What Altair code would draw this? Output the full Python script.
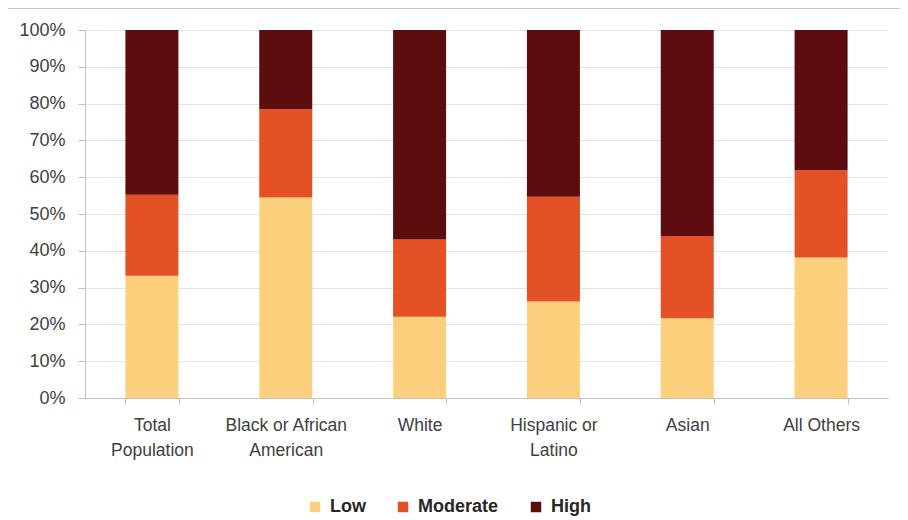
import altair as alt
import pandas as pd

categories = ["Total Population", "Black or African American", "White",
              "Hispanic or Latino", "Asian", "All Others"]
levels = ["Low", "Moderate", "High"]
low = [33.2, 54.5, 22.1, 26.2, 21.7, 38.2]
moderate = [22.0, 24.0, 21.0, 28.5, 22.3, 23.7]
high = [44.8, 21.5, 56.9, 45.3, 56.0, 38.1]
label_lines = {
    "Total Population": ["Total", "Population"],
    "Black or African American": ["Black or African", "American"],
    "White": ["White"],
    "Hispanic or Latino": ["Hispanic or", "Latino"],
    "Asian": ["Asian"],
    "All Others": ["All Others"],
}
colors = ["#FDD07E", "#E35125", "#5E0D0E"]

rows = []
for i, c in enumerate(categories):
    for j, (lv, vals) in enumerate(zip(levels, [low, moderate, high])):
        rows.append({"category": c, "level": lv, "idx": j, "value": vals[i]})
df = pd.DataFrame(rows)

expr_parts = []
for k, v in label_lines.items():
    arr = "[" + ",".join("'" + s + "'" for s in v) + "]"
    expr_parts.append(f"datum.label == '{k}' ? {arr}")
label_expr = " : ".join(expr_parts) + " : datum.label"

FONT = "Liberation Sans"

bars = alt.Chart(df).mark_bar(size=53).encode(
    x=alt.X("category:N", sort=categories, title=None,
            scale=alt.Scale(paddingInner=0.6, paddingOuter=0.3),
            axis=alt.Axis(labelAngle=0, labelExpr=label_expr, tickBand="extent",
                          tickSize=6, labelPadding=12, labelFontSize=17.5,
                          labelColor="#404040", labelFont=FONT,
                          domainColor="#bfbfbf", tickColor="#bfbfbf",
                          labelLineHeight=25, grid=False)),
    y=alt.Y("value:Q", stack="normalize", title=None,
            scale=alt.Scale(domain=[0, 1], nice=False),
            axis=alt.Axis(values=[i / 10 for i in range(11)], format=".0%",
                          tickSize=7, labelPadding=13, labelFontSize=18,
                          labelColor="#404040", labelFont=FONT,
                          domainColor="#bfbfbf", tickColor="#bfbfbf",
                          gridColor="#e3e3e3")),
    color=alt.Color("level:N", sort=levels,
                    scale=alt.Scale(domain=levels, range=colors),
                    legend=alt.Legend(title=None, orient="none", direction="horizontal",
                                      legendX=221, legendY=468, symbolType="square",
                                      symbolSize=110, symbolStrokeWidth=0,
                                      labelFontSize=18, labelFontWeight="bold",
                                      labelFont=FONT, labelColor="#262626",
                                      columnPadding=28, labelOffset=6)),
    order=alt.Order("idx:Q", sort="ascending"),
)

topline = alt.Chart(pd.DataFrame({"a": [0]})).mark_rule(color="#8c8c8c", strokeWidth=1).encode(
    x=alt.value(-77), x2=alt.value(823), y=alt.value(-22)
)

chart = alt.layer(bars, topline).properties(
    width=803, height=368,
    autosize=alt.AutoSizeParams(type="none"),
    padding={"left": 77, "top": 22, "right": 12, "bottom": 120},
).configure_view(stroke=None)

chart.save("out.html", embed_options={"renderer": "svg", "actions": False})
